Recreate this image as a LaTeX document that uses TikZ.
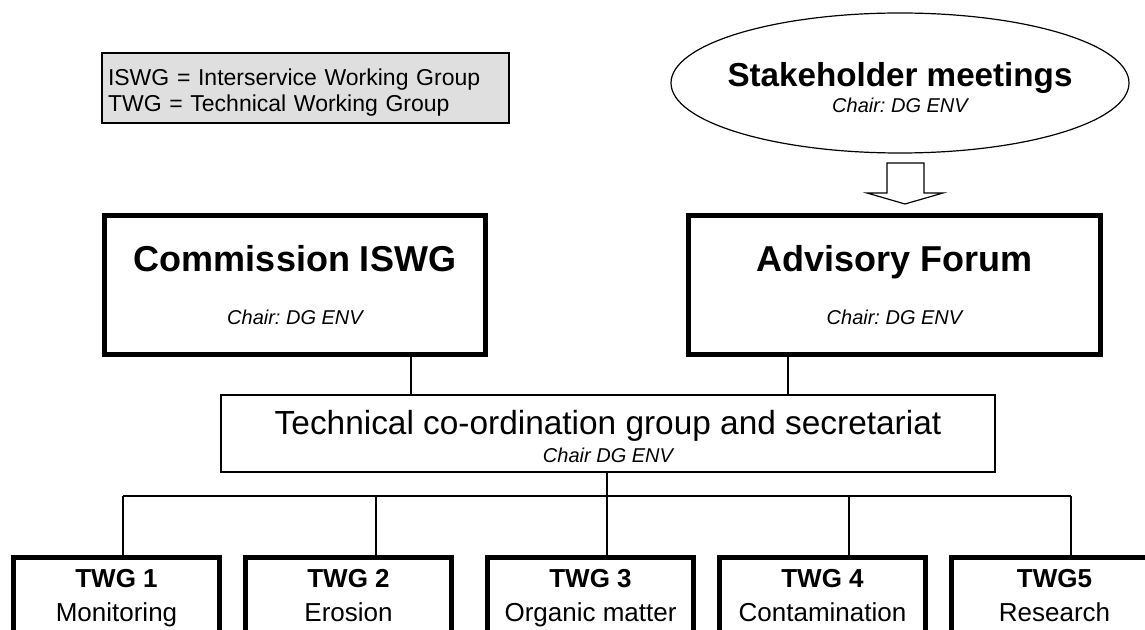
\documentclass[tikz,border=0pt]{standalone}
\usepackage{fontspec}
\setmainfont{Liberation Sans}
\usetikzlibrary{shapes.geometric}
\frenchspacing

\tikzset{
	thickbox/.style={draw, line width=2.5pt, inner sep=0pt, align=center},
	thinbox/.style={draw, line width=0.6pt, inner sep=0pt, align=center},
	twgbox/.style={draw, line width=2.5pt, inner sep=0pt, align=center, minimum width=103pt, minimum height=40pt, font=\fontsize{13}{17}\selectfont},
	link/.style={line width=0.6pt}
}
\newcommand{\chairtext}[1]{{\fontsize{10}{12}\selectfont\itshape #1}}

\begin{document}
\begin{tikzpicture}[x=0.5pt,y=-0.5pt]
	\useasboundingbox (0,0) rectangle (1145,630);
	
	\node[draw, line width=0.6pt, fill=gray!25, inner xsep=3pt, inner ysep=0pt, minimum height=35pt, text width=197.5pt, align=left, font=\fontsize{11.5}{13}\selectfont] (legend) at (305.5,88) {\rule{0pt}{12.5pt}ISWG = Interservice Working Group\\TWG = Technical Working Group};
	
	\node[ellipse, draw, line width=0.6pt, inner xsep=-6pt, inner ysep=0pt, minimum width=229pt, minimum height=70pt, align=center, font=\fontsize{10}{13}\selectfont] (stake) at (900,83) {\rule{0pt}{17pt}{\fontsize{16.6}{18}\selectfont\bfseries Stakeholder meetings}\\ \chairtext{Chair: DG ENV}};
	
	\node[thickbox, minimum width=190.5pt, minimum height=69.5pt, font=\fontsize{10}{26.5}\selectfont] (comm) at (295,285) {{\fontsize{18}{20}\selectfont\bfseries Commission ISWG}\\ \chairtext{Chair: DG ENV}};
	\node[thickbox, minimum width=206pt, minimum height=69.5pt, font=\fontsize{10}{26.5}\selectfont] (adv) at (894.5,285) {{\fontsize{18}{20}\selectfont\bfseries Advisory Forum}\\ \chairtext{Chair: DG ENV}};
	
	\node[thinbox, minimum width=387pt, minimum height=38.5pt, font=\fontsize{10}{14}\selectfont] (tech) at (608,433.5) {\rule{0pt}{15.5pt}{\fontsize{16.7}{18}\selectfont Technical co-ordination group and secretariat}\\ \chairtext{Chair DG ENV}};
	
	\node[twgbox] (twg1) at (116.5,597.5) {\strut\textbf{TWG 1}\\\strut Monitoring};
	\node[twgbox] (twg2) at (348.5,597.5) {\strut\textbf{TWG 2}\\\strut Erosion};
	\node[twgbox] (twg3) at (590.5,597.5) {\strut\textbf{TWG 3}\\\strut Organic matter};
	\node[twgbox] (twg4) at (822.5,597.5) {\strut\textbf{TWG 4}\\\strut Contamination};
	\node[twgbox] (twg5) at (1054.5,597.5) {\strut\textbf{TWG5}\\\strut Research};
	
	% hollow arrow
	\draw[line width=0.6pt, fill=white] (887,163) -- (924,163) -- (924,193) -- (943,193) -- (905,204) -- (867,193) -- (887,193) -- cycle;
	
	\draw[link] (comm.south -| 411,0) -- (tech.north -| 411,0);
	\draw[link] (adv.south -| 788,0) -- (tech.north -| 788,0);
	
	\coordinate (b1) at (123,496);
	\coordinate (b2) at (376,496);
	\coordinate (b3) at (607,496);
	\coordinate (b4) at (849,496);
	\coordinate (b5) at (1071,496);
	
	\draw[link] (tech.south -| b3) -- (b3);
	\draw[link] (b1) -- (b5);
	\draw[link] (b1) -- (twg1.north -| b1);
	\draw[link] (b2) -- (twg2.north -| b2);
	\draw[link] (b3) -- (twg3.north -| b3);
	\draw[link] (b4) -- (twg4.north -| b4);
	\draw[link] (b5) -- (twg5.north -| b5);
	
\end{tikzpicture}
\end{document}
